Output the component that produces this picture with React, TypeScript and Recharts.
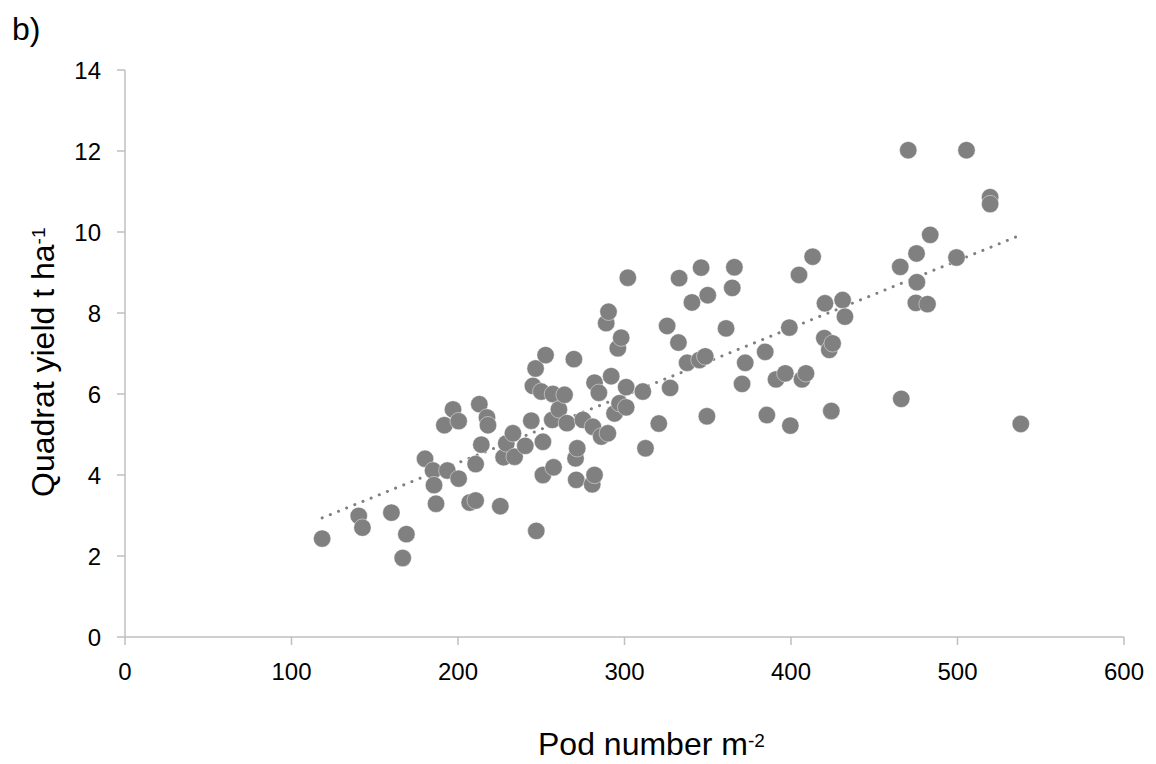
import { ScatterChart, Scatter, XAxis, YAxis, ReferenceLine } from "recharts";

// Pod number m-2 (x) and quadrat yield t ha-1 (y)
const POD_NUMBER = [
  118.4, 140.4, 142.6, 160, 166.8, 169, 180.2, 185, 185.6, 186.8, 191.8, 193.6, 197,
  200.4, 200.4, 207, 210.6, 210.6, 212.8, 214, 217.4, 218, 225.4, 227.4, 229, 233, 234,
  240.4, 244, 245, 246.6, 247,
  250, 251, 251, 252.6, 256.6, 257, 257.4, 260.6, 264, 265.4, 269.6, 270.6, 271.6, 271,
  275, 280.6, 281, 282, 282, 284.6, 286, 289, 290.4, 290, 292, 294, 296, 297, 298,
  301, 301, 302, 311, 312.6, 320.6, 325.6, 327.4, 332.4, 332.8, 337.6, 340.5, 345, 346,
  348.5, 349.5, 350,
  361, 364.7, 366, 370.6, 372.5, 384.5, 385.5, 391, 396.6, 399, 399.6,
  404.8, 406.6, 409, 413, 420.4, 420, 423, 425, 424.2, 431, 432.4,
  465.6, 466.2, 470.4, 475.4, 475.6, 475, 482, 483.6, 499.4, 505.4, 519.6, 519.6, 538,
];
const YIELD = [
  2.43, 2.99, 2.7, 3.07, 1.95, 2.54, 4.4, 4.11, 3.75, 3.29, 5.23, 4.11, 5.62,
  5.33, 3.91, 3.32, 3.37, 4.27, 5.75, 4.75, 5.42, 5.23, 3.23, 4.44, 4.78, 5.03, 4.45,
  4.72, 5.34, 6.2, 6.63, 2.62,
  6.06, 4.82, 4.0, 6.96, 5.36, 6.0, 4.19, 5.62, 5.98, 5.28, 6.86, 4.41, 4.66, 3.88,
  5.36, 3.77, 5.19, 4.0, 6.28, 6.03, 4.95, 7.75, 8.03, 5.03, 6.44, 5.52, 7.13, 5.77, 7.39,
  6.17, 5.67, 8.87, 6.06, 4.66, 5.27, 7.68, 6.15, 7.27, 8.86, 6.77, 8.26, 6.84, 9.12,
  6.93, 5.45, 8.44,
  7.62, 8.62, 9.13, 6.25, 6.77, 7.04, 5.48, 6.36, 6.51, 7.64, 5.22,
  8.94, 6.36, 6.51, 9.39, 8.24, 7.38, 7.09, 7.25, 5.58, 8.32, 7.91,
  9.14, 5.88, 12.02, 9.47, 8.76, 8.25, 8.22, 9.93, 9.37, 12.02, 10.86, 10.69, 5.26,
];
const X_TICKS = [0, 100, 200, 300, 400, 500, 600];
const Y_TICKS = [0, 2, 4, 6, 8, 10, 12, 14];

const points = POD_NUMBER.map((x, i) => ({ x, y: YIELD[i] }));

// linear trendline, least squares like Excel does
function fitLine(xs: number[], ys: number[]) {
  const n = xs.length;
  const mx = xs.reduce((a, b) => a + b, 0) / n;
  const my = ys.reduce((a, b) => a + b, 0) / n;
  let sxy = 0;
  let sxx = 0;
  xs.forEach((x, i) => {
    sxy += (x - mx) * (ys[i] - my);
    sxx += (x - mx) * (x - mx);
  });
  const slope = sxy / sxx;
  return { slope, intercept: my - slope * mx };
}

const fit = fitLine(POD_NUMBER, YIELD);
const xMin = Math.min(...POD_NUMBER);
const xMax = Math.max(...POD_NUMBER);
const trendSegment = [
  { x: xMin, y: fit.intercept + fit.slope * xMin },
  { x: xMax, y: fit.intercept + fit.slope * xMax },
];

const FONT = "'Liberation Sans', Arial, sans-serif";
const AXIS_GREY = "#bfbfbf";
const MARKER = "#808080";

function Dot(props: any) {
  const { cx, cy } = props;
  if (cx == null || cy == null) return null;
  return (
    <circle cx={cx} cy={cy} r={8.7} fill={MARKER} stroke="#ffffff" strokeOpacity={0.55} strokeWidth={0.8} />
  );
}

function XTitle() {
  return (
    <text x={538} y={755} fontFamily={FONT} fontSize={32} fill="#000">
      Pod number m
      <tspan fontSize={19} dy={-8}>-2</tspan>
    </text>
  );
}

function YTitle() {
  return (
    <g>
      <text x={12} y={40} fontFamily={FONT} fontSize={32} fill="#000">
        b)
      </text>
      <text
        x={54}
        y={497}
        transform="rotate(-90 54 497)"
        fontFamily={FONT}
        fontSize={32}
        fill="#000"
      >
        Quadrat yield t ha
        <tspan fontSize={19} dy={-9}>-1</tspan>
      </text>
    </g>
  );
}

export default function App() {
  return (
    <div style={{ position: "absolute", left: 0, top: 0, width: 1156, height: 764, background: "#fff" }}>
      <ScatterChart width={1156} height={764} margin={{ top: 70, right: 32, left: 25, bottom: 67 }}>
        <XAxis
          type="number"
          dataKey="x"
          domain={[0, 600]}
          ticks={X_TICKS}
          interval={0}
          height={60}
          axisLine={{ stroke: AXIS_GREY, strokeWidth: 1.5 }}
          tickLine={{ stroke: AXIS_GREY, strokeWidth: 1.5 }}
          tickSize={8}
          tickMargin={18}
          tick={{ fontSize: 24, fill: "#000", fontFamily: FONT }}
          label={<XTitle />}
        />
        <YAxis
          type="number"
          dataKey="y"
          domain={[0, 14]}
          ticks={Y_TICKS}
          interval={0}
          width={100}
          axisLine={{ stroke: AXIS_GREY, strokeWidth: 1.5 }}
          tickLine={{ stroke: AXIS_GREY, strokeWidth: 1.5 }}
          tickSize={8}
          tickMargin={16}
          tick={{ fontSize: 24, fill: "#000", fontFamily: FONT }}
          label={<YTitle />}
        />
        <Scatter data={points} shape={<Dot />} isAnimationActive={false} />
        <ReferenceLine
          segment={trendSegment}
          stroke={MARKER}
          strokeWidth={3}
          strokeDasharray="0.1 8.7"
          strokeLinecap="round"
          ifOverflow="visible"
        />
      </ScatterChart>
    </div>
  );
}
